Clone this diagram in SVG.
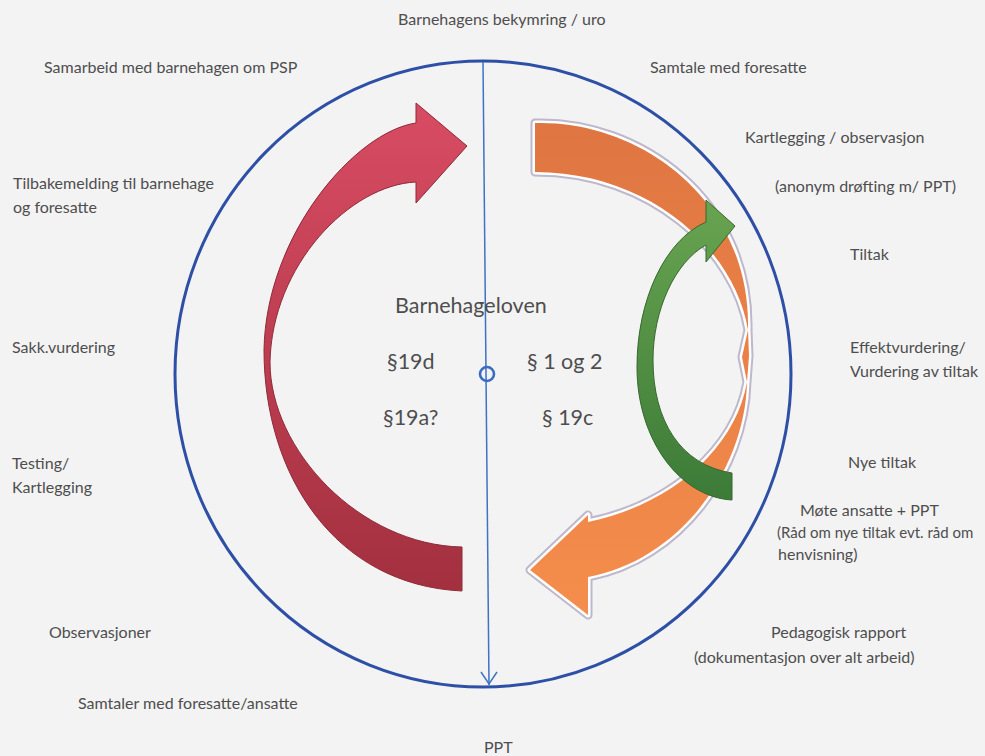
<svg xmlns="http://www.w3.org/2000/svg" width="985" height="756" viewBox="0 0 985 756">
  <defs>
    <linearGradient id="gRed" x1="0" y1="0" x2="0" y2="1">
      <stop offset="0" stop-color="#d84c63"/>
      <stop offset="1" stop-color="#a3303f"/>
    </linearGradient>
    <linearGradient id="gOrange" x1="0" y1="0" x2="0" y2="1">
      <stop offset="0" stop-color="#df7642"/>
      <stop offset="1" stop-color="#f58d4c"/>
    </linearGradient>
    <linearGradient id="gGreen" x1="0" y1="0" x2="0" y2="1">
      <stop offset="0" stop-color="#68a450"/>
      <stop offset="1" stop-color="#3c7b38"/>
    </linearGradient>
    <path id="orangeShape" d="M535,123 C640,120 751,200 748,330 L749,356 L747,382 C745,470 680,560 588,577 L588,615 L530,570 L588,515 L588,522 C670,505 735,450 747,382 L742,357 L748,330 C735,250 650,172 535,172 Z"/>
  </defs>
  <style>
    .lbl { font-family: Lato, "Liberation Sans", sans-serif; font-size: 16px; fill: #4e4e4e; }
    .law { font-family: Lato, "Liberation Sans", sans-serif; font-size: 21.5px; fill: #4e4e4e; }
    .ring { fill: none; stroke: #2d4fa6; stroke-width: 3; }
    .axis { fill: none; stroke: #3f72c4; stroke-width: 1.5; }
  </style>

  <rect width="985" height="756" fill="#f3f3f3"/>

  <!-- outer ring -->
  <g id="ring">
    <ellipse class="ring" cx="483" cy="374" rx="308" ry="313"/>
  </g>

  <!-- curved process arrows -->
  <g id="arrow-red">
    <path d="M416,123 L416,103 L467,146 L416,203 L416,182 C350,185 272,265 270,362 C270,450 360,545 462,547 L462,591 C335,585 264,475 264,350 C266,235 355,132 416,123 Z"
          fill="url(#gRed)" stroke="#8e2a38" stroke-width="1"/>
  </g>
  <g id="arrow-orange">
    <use href="#orangeShape" fill="none" stroke="#bdb8cc" stroke-width="9" stroke-linejoin="round"/>
    <use href="#orangeShape" fill="url(#gOrange)" stroke="#ffffff" stroke-width="5" stroke-linejoin="round" paint-order="stroke"/>
  </g>
  <g id="arrow-green">
    <path d="M732,473 L732,500 C680,497 637,440 637,367 C637,300 665,240 706,222 L706,200 L735,226 L706,262 L706,245 C675,262 653,310 653,360 C653,420 680,465 732,473 Z"
          fill="url(#gGreen)" stroke="#36682f" stroke-width="1"/>
  </g>

  <!-- vertical axis with centre marker -->
  <g id="connectors">
    <line class="axis" x1="483" y1="62" x2="489" y2="685"/>
    <polyline class="axis" points="481,672 489,684 497,672"/>
  </g>
  <g id="centre">
    <circle cx="487" cy="374" r="7" fill="none" stroke="#3a6cc0" stroke-width="2.6"/>
  </g>

  <!-- law references -->
  <g id="law">
    <text class="law" x="395" y="313">Barnehageloven</text>
    <text class="law" x="387" y="369">§19d</text>
    <text class="law" x="527" y="369">§ 1 og 2</text>
    <text class="law" x="383" y="425">§19a?</text>
    <text class="law" x="542" y="425">§ 19c</text>
  </g>

  <!-- steps around the ring -->
  <g id="steps-top">
    <text class="lbl" x="398" y="25">Barnehagens bekymring / uro</text>
  </g>
  <g id="steps-right">
    <text class="lbl" x="650" y="73">Samtale med foresatte</text>
    <text class="lbl" x="745" y="143">Kartlegging / observasjon</text>
    <text class="lbl" x="775" y="192">(anonym drøfting m/ PPT)</text>
    <text class="lbl" x="850" y="260">Tiltak</text>
    <text class="lbl" x="850" y="353">Effektvurdering/</text>
    <text class="lbl" x="850" y="377">Vurdering av tiltak</text>
    <text class="lbl" x="848" y="468">Nye tiltak</text>
    <text class="lbl" x="800" y="516">Møte ansatte + PPT</text>
    <text class="lbl" x="777" y="538" style="font-size:15px">(Råd om nye tiltak evt. råd om</text>
    <text class="lbl" x="778" y="560">henvisning)</text>
    <text class="lbl" x="771" y="638">Pedagogisk rapport</text>
    <text class="lbl" x="694" y="663">(dokumentasjon over alt arbeid)</text>
  </g>
  <g id="steps-left">
    <text class="lbl" x="44" y="73">Samarbeid med barnehagen om PSP</text>
    <text class="lbl" x="13" y="189">Tilbakemelding til barnehage</text>
    <text class="lbl" x="13" y="213">og foresatte</text>
    <text class="lbl" x="12" y="353">Sakk.vurdering</text>
    <text class="lbl" x="12" y="469">Testing/</text>
    <text class="lbl" x="12" y="493">Kartlegging</text>
    <text class="lbl" x="49" y="638">Observasjoner</text>
    <text class="lbl" x="78" y="709">Samtaler med foresatte/ansatte</text>
  </g>
  <g id="steps-bottom">
    <text class="lbl" x="484" y="753">PPT</text>
  </g>
</svg>
